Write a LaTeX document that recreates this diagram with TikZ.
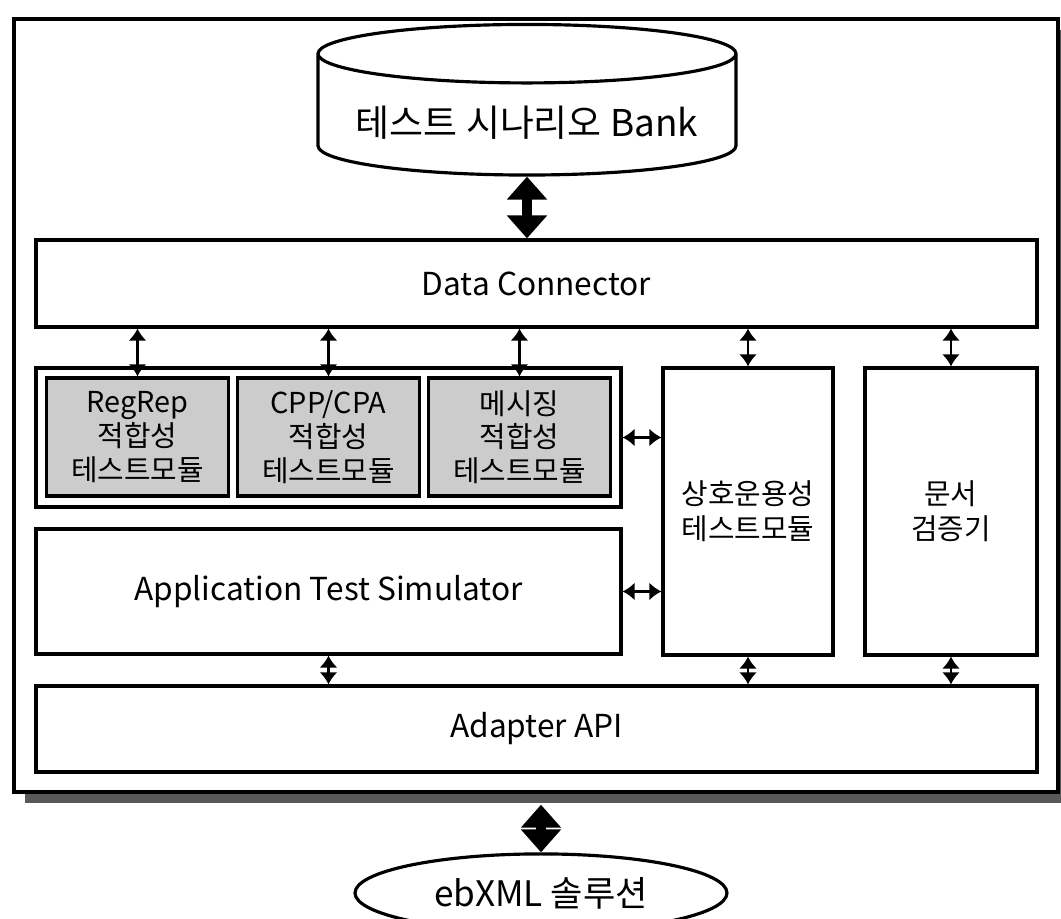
\documentclass[tikz,border=0pt]{standalone}
\usepackage{fontspec}
\setmainfont{Noto Sans CJK KR}
\usetikzlibrary{arrows.meta,positioning,shapes.geometric,shadows}

\begin{document}
\begin{tikzpicture}[
  font=\fontsize{9}{12}\selectfont,
  blk/.style={draw, line width=0.9pt, align=center, inner sep=2pt},
  modbox/.style={blk, fill=black!20, minimum width=1.82cm, minimum height=1.18cm, font=\fontsize{8.2}{9.6}\selectfont},
  tall/.style={blk, minimum height=2.87cm, font=\fontsize{8.2}{10}\selectfont},
  thin/.style={{Latex[width=1.8mm,length=1.2mm]}-{Latex[width=1.8mm,length=1.2mm]}, line width=0.8pt},
  fat/.style={{Triangle[width=3.9mm,length=2.3mm]}-{Triangle[width=3.9mm,length=2.3mm]}, line width=1mm}
]
\useasboundingbox (0,0) rectangle (10.61,9.19);
\clip (0,0) rectangle (10.61,9.19);

% outer frame with its shadow
\node[draw, fill=white, line width=1pt, minimum width=10.44cm, minimum height=7.73cm,
  drop shadow={shadow xshift=0.11cm, shadow yshift=-0.11cm, fill=black!65, opacity=1}] (frame) at (5.36,5.135) {};

\node[cylinder, shape border rotate=90, draw, line width=0.9pt, aspect=0.16, minimum width=4.18cm,
  font=\fontsize{10.5}{12}\selectfont] (bank) at (5.27,7.99) {\raisebox{0.07cm}[0.475cm][0pt]{테스트 시나리오 Bank}};
\node[blk, minimum width=10.01cm, minimum height=0.87cm] (dc) at (5.365,6.355) {Data Connector};

\node[blk, minimum width=5.85cm, minimum height=1.39cm] (grp) at (3.285,4.815) {};
\node[modbox] (m1) at (1.375,4.82) {RegRep\\적합성\\테스트모듈};
\node[modbox] (m2) at (3.285,4.82) {CPP/CPA\\적합성\\테스트모듈};
\node[modbox] (m3) at (5.195,4.82) {메시징\\적합성\\테스트모듈};
\node[tall, minimum width=1.70cm] (iop) at (7.48,4.075) {상호운용성\\테스트모듈};
\node[tall, minimum width=1.72cm] (val) at (9.51,4.075) {문서\\검증기};
\node[blk, minimum width=5.85cm, minimum height=1.25cm] (ats) at (3.285,3.275) {Application Test Simulator};
\node[blk, minimum width=10.01cm, minimum height=0.86cm] (api) at (5.365,1.90) {Adapter API};

\node[ellipse, draw, line width=0.9pt, minimum width=3.72cm, minimum height=0.68cm, font=\fontsize{10}{12}\selectfont] (sol) at (5.41,0.26) {ebXML 솔루션};

% connectors
\draw[fat] (bank.south) -- (bank.south |- dc.north);
\foreach \m in {m1,m2,m3,iop,val}
  \draw[thin] (\m.north |- dc.south) -- (\m.north);
\draw[thin] (grp.east) -- (grp.east -| iop.west);
\draw[thin] (ats.east) -- (ats.east -| iop.west);
\foreach \m in {ats,iop,val}
  \draw[thin] (\m.south) -- (\m.south |- api.north);
\draw[fat] ([yshift=-0.11cm]frame.south -| sol.north) -- (sol.north);
\end{tikzpicture}
\end{document}
